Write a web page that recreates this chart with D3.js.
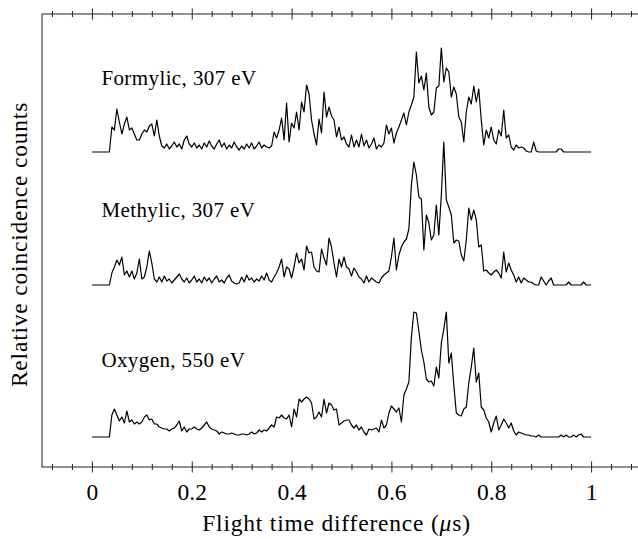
<!DOCTYPE html>
<html>
<head>
<meta charset="utf-8">
<script src="https://cdn.jsdelivr.net/npm/d3@7"></script>
<style>
  body { margin: 0; background: #fff; }
  text { font-family: "Liberation Serif", "DejaVu Serif", serif; fill: #000; }
</style>
</head>
<body>
<div id="chart"></div>
<script>
// spectra sampled every 0.005 us from 0 to 1 us (arbitrary count units)
const step = 0.005;
const formylic = [0,0,0,0,0,0,0,0,
  25,22,43,30,18,28,35,22,24,18,12,12,18,22,20,26,28,16,32,16,6,
  4,8,3,6,10,5,8,3,12,16,8,5,9,4,7,3,9,5,11,6,3,8,12,5,9,3,7,4,10,5,2,6,3,8,4,9,3,6,10,4,7,5,
  4,6,20,14,22,34,12,49,10,29,24,40,22,50,40,67,58,32,18,7,33,19,60,35,45,36,32,15,25,12,
  15,8,5,17,5,12,5,18,6,12,4,8,14,3,7,5,9,27,18,24,9,19,25,32,39,27,40,47,55,100,
  69,76,62,79,45,37,40,64,66,104,70,84,80,55,65,58,35,30,10,40,55,48,66,50,63,32,7,22,14,25,
  12,8,22,16,42,14,17,5,2,7,4,5,4,1,0,0,10,1,0,0,0,0,0,0,0,0,3,3,0,0,0,0,0,0,0,0,0,0,0,0];
const methylic = [0,0,0,0,0,0,0,0,
  12,18,25,20,28,10,14,8,14,6,12,26,6,8,18,34,22,6,3,8,3,
  9,4,6,2,5,8,11,6,3,7,2,5,9,3,6,2,8,4,7,2,6,9,3,5,2,7,10,4,2,1,2,8,3,10,5,7,3,6,4,9,5,12,
  5,3,8,12,18,26,8,18,16,7,18,32,22,26,15,39,32,33,18,14,13,36,27,20,47,38,22,8,26,18,
  28,18,16,9,17,13,8,6,2,9,3,7,5,3,2,7,10,12,14,28,47,15,30,38,43,46,56,100,123,110,
  88,86,35,70,62,45,50,80,50,90,143,85,78,70,42,45,44,30,24,45,77,65,75,65,38,40,14,15,12,10,
  13,15,12,7,33,13,22,15,10,3,8,2,7,5,3,3,1,0,0,8,4,0,4,7,0,0,0,0,0,0,3,0,0,0,0,0,3,0,0,0];
const oxygen = [0,0,0,0,0,0,0,0,
  22,28,22,16,20,14,26,15,17,13,15,13,15,20,22,17,18,13,13,10,9,
  8,8,6,8,9,12,16,6,10,5,8,8,10,8,7,9,12,15,10,8,7,6,3,5,4,3,3,4,3,2,2,3,3,2,3,5,3,4,7,5,7,6,
  9,12,10,20,19,22,19,18,22,10,28,20,38,35,38,40,38,34,18,20,25,20,38,24,34,32,27,28,12,14,
  16,17,17,12,9,12,7,10,5,2,8,7,8,9,5,17,9,12,24,31,28,25,29,15,42,48,55,100,125,124,
  106,87,75,58,55,56,51,70,59,94,108,125,74,84,52,24,22,21,28,30,54,70,89,55,64,30,27,19,15,5,
  14,21,7,12,18,14,9,14,6,2,5,4,3,2,2,1,1,0,2,0,0,0,0,0,0,0,0,2,0,2,0,0,2,0,2,3,0,0,0,0];

const seriesNames = ["Formylic, 307 eV", "Methylic, 307 eV", "Oxygen, 550 eV"];
const seriesData = [formylic, methylic, oxygen];
const seriesOffsets = [315, 182, 30];
const labelOffsets = [67, 68, 70];

const majorTicks = [0, 0.2, 0.4, 0.6, 0.8, 1];
const tickLabels = ["0", "0.2", "0.4", "0.6", "0.8", "1"];
const minorTicks = [-0.08, -0.04, 0.04, 0.08, 0.12, 0.16, 0.24, 0.28, 0.32, 0.36,
  0.44, 0.48, 0.52, 0.56, 0.64, 0.68, 0.72, 0.76, 0.84, 0.88, 0.92, 0.96, 1.04, 1.08];

const width = 638, height = 539;
const margin = {top: 14, left: 42, bottom: 72};

const svg = d3.select("#chart").append("svg")
  .attr("width", width)
  .attr("height", height);

const x = d3.scaleLinear().domain([-0.1, 1.1]).range([margin.left, 641]);
const y = d3.scaleLinear().domain([0, 453]).range([height - margin.bottom, margin.top]);

// frame
svg.append("rect")
  .attr("x", x(-0.1)).attr("y", y(453))
  .attr("width", x(1.1) - x(-0.1)).attr("height", y(0) - y(453))
  .attr("fill", "none").attr("stroke", "#222").attr("stroke-width", 1);

// ticks that straddle the top and bottom lines
function tickAxis(gen, yPos, values, len, labels) {
  const g = svg.append("g")
    .attr("transform", `translate(0,${yPos})`)
    .call(gen(x).tickValues(values).tickSize(len).tickFormat((d, i) => labels ? labels[i] : ""));
  g.select(".domain").remove();
  g.selectAll(".tick line").attr("y1", -len).attr("y2", len).attr("stroke", "#222");
  return g;
}
tickAxis(d3.axisBottom, y(0), minorTicks, 3, null);
tickAxis(d3.axisTop, y(453), minorTicks, 3, null);
tickAxis(d3.axisTop, y(453), majorTicks, 5.5, null);
const bottomMajor = tickAxis(d3.axisBottom, y(0), majorTicks, 5.5, tickLabels);
bottomMajor.selectAll(".tick text")
  .attr("y", 33).attr("dy", 0)
  .attr("font-size", 23.5)
  .style("font-family", "'Liberation Serif', serif");

// traces
const line = d3.line()
  .x((d, i) => x(i * step));

seriesData.forEach((vals, k) => {
  svg.append("path")
    .datum(vals)
    .attr("fill", "none")
    .attr("stroke", "#000")
    .attr("stroke-width", 1.2)
    .attr("stroke-linejoin", "round")
    .attr("d", line.y(d => y(seriesOffsets[k] + d)));

  svg.append("text")
    .attr("x", x(0.019))
    .attr("y", y(seriesOffsets[k] + labelOffsets[k]))
    .attr("font-size", 21)
    .attr("letter-spacing", 0.4)
    .text(seriesNames[k]);
});

// axis titles
svg.append("text")
  .attr("x", x(0.5) - 5)
  .attr("y", 531)
  .attr("text-anchor", "middle")
  .attr("font-size", 23.5)
  .attr("letter-spacing", 0.8)
  .html("Flight time difference (<tspan font-style='italic'>μ</tspan>s)");

svg.append("text")
  .attr("transform", `translate(27,${(y(0) + y(453)) / 2 + 4}) rotate(-90)`)
  .attr("text-anchor", "middle")
  .attr("font-size", 23.5)
  .attr("letter-spacing", 0.8)
  .text("Relative coincidence counts");
</script>
</body>
</html>
